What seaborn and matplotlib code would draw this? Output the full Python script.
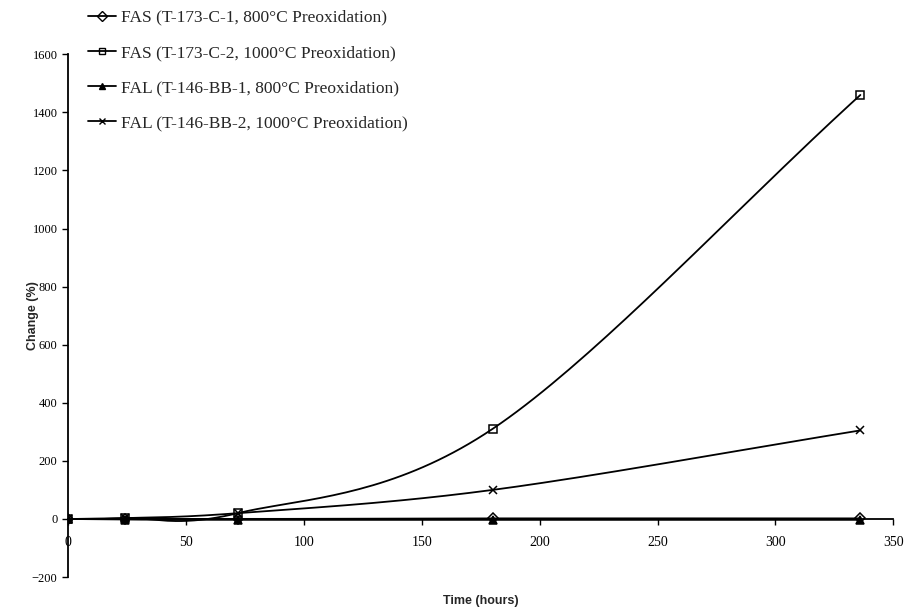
import numpy as np
import pandas as pd
import matplotlib
matplotlib.use("Agg")
import matplotlib.pyplot as plt
import seaborn as sns
from matplotlib.lines import Line2D

hours = [0, 24, 72, 180, 336]
fas_c1 = [0, 0, 0, 2, 2]
fas_c2 = [0, 3, 20, 310, 1460]
fal_bb1 = [0, -2, -3, -3, -3]
fal_bb2 = [0, 3, 20, 100, 305]
labels = ["FAS (T-173-C-1, 800°C Preoxidation)",
          "FAS (T-173-C-2, 1000°C Preoxidation)",
          "FAL (T-146-BB-1, 800°C Preoxidation)",
          "FAL (T-146-BB-2, 1000°C Preoxidation)"]
series = [fas_c1, fas_c2, fal_bb1, fal_bb2]
markers = ["D", "s", "^", "x"]
fills = ["none", "none", "black", "none"]
yticks = [-200, 0, 200, 400, 600, 800, 1000, 1200, 1400, 1600]
xticks = [0, 50, 100, 150, 200, 250, 300, 350]


def smooth(x, y, n=40):
    # Catmull-Rom style smoothing (as spreadsheet "smoothed line")
    x = np.asarray(x, float); y = np.asarray(y, float)
    px = np.concatenate([[2*x[0]-x[1]], x, [2*x[-1]-x[-2]]])
    py = np.concatenate([[2*y[0]-y[1]], y, [2*y[-1]-y[-2]]])
    xs, ys = [], []
    for i in range(1, len(px)-2):
        t = np.linspace(0, 1, n)
        b1x = px[i] + (px[i+1]-px[i-1])/6; b1y = py[i] + (py[i+1]-py[i-1])/6
        b2x = px[i+1] - (px[i+2]-px[i])/6; b2y = py[i+1] - (py[i+2]-py[i])/6
        bx = (1-t)**3*px[i] + 3*(1-t)**2*t*b1x + 3*(1-t)*t**2*b2x + t**3*px[i+1]
        by = (1-t)**3*py[i] + 3*(1-t)**2*t*b1y + 3*(1-t)*t**2*b2y + t**3*py[i+1]
        xs.extend(bx); ys.extend(by)
    return np.array(xs), np.array(ys)


sns.set_style("white")
plt.rcParams['font.family'] = ['Liberation Serif', 'DejaVu Serif']

fig = plt.figure(figsize=(9.07, 6.10), dpi=100)
ax = fig.add_axes([0.075, 0.054, 0.910, 0.857])

handles = []
for lab, ys, m, fc in zip(labels, series, markers, fills):
    sx, sy = smooth(hours, ys)
    d = pd.DataFrame({"x": sx, "y": sy})
    sns.lineplot(data=d, x="x", y="y", ax=ax, color="black", lw=1.3, sort=False,
                 estimator=None)
    dp = pd.DataFrame({"x": hours, "y": ys})
    ax.plot(dp["x"], dp["y"], ls="none", marker=m, ms=5.5, mfc=fc, mec="black",
            mew=1.1, color="black")
    handles.append(Line2D([], [], color="black", lw=1.3, marker=m, ms=5,
                          mfc=fc, mec="black"))

ax.set_xlim(0, 350)
ax.set_ylim(-200, 1600)
ax.set_xticks(xticks)
ax.set_yticks(yticks)
ax.spines['top'].set_visible(False)
ax.spines['right'].set_visible(False)
ax.spines['bottom'].set_position(('data', 0))
ax.spines['left'].set_linewidth(1.3)
ax.spines['bottom'].set_linewidth(1.3)
ax.spines['left'].set_color('black')
ax.spines['bottom'].set_color('black')
ax.tick_params(axis='both', direction='out', length=4, width=1, colors='black',
               labelsize=10, left=True, bottom=True)
ax.tick_params(axis='x', pad=8)
ax.set_xlabel("Time (hours)", fontsize=9, fontweight='bold', family='Liberation Sans')
ax.set_ylabel("Change (%)", fontsize=9, fontweight='bold', family='Liberation Sans')
ax.xaxis.set_label_coords(0.5, -0.035)
ax.yaxis.set_label_coords(-0.035, 0.5)
for t in ax.get_yticklabels():
    t.set_fontsize(9)

leg = fig.legend(handles=handles, labels=labels, loc='upper left',
                 bbox_to_anchor=(0.08, 1.01), frameon=False, fontsize=12.5,
                 handlelength=1.6, handletextpad=0.3, labelspacing=1.1)

fig.savefig("out.png", dpi=100)
